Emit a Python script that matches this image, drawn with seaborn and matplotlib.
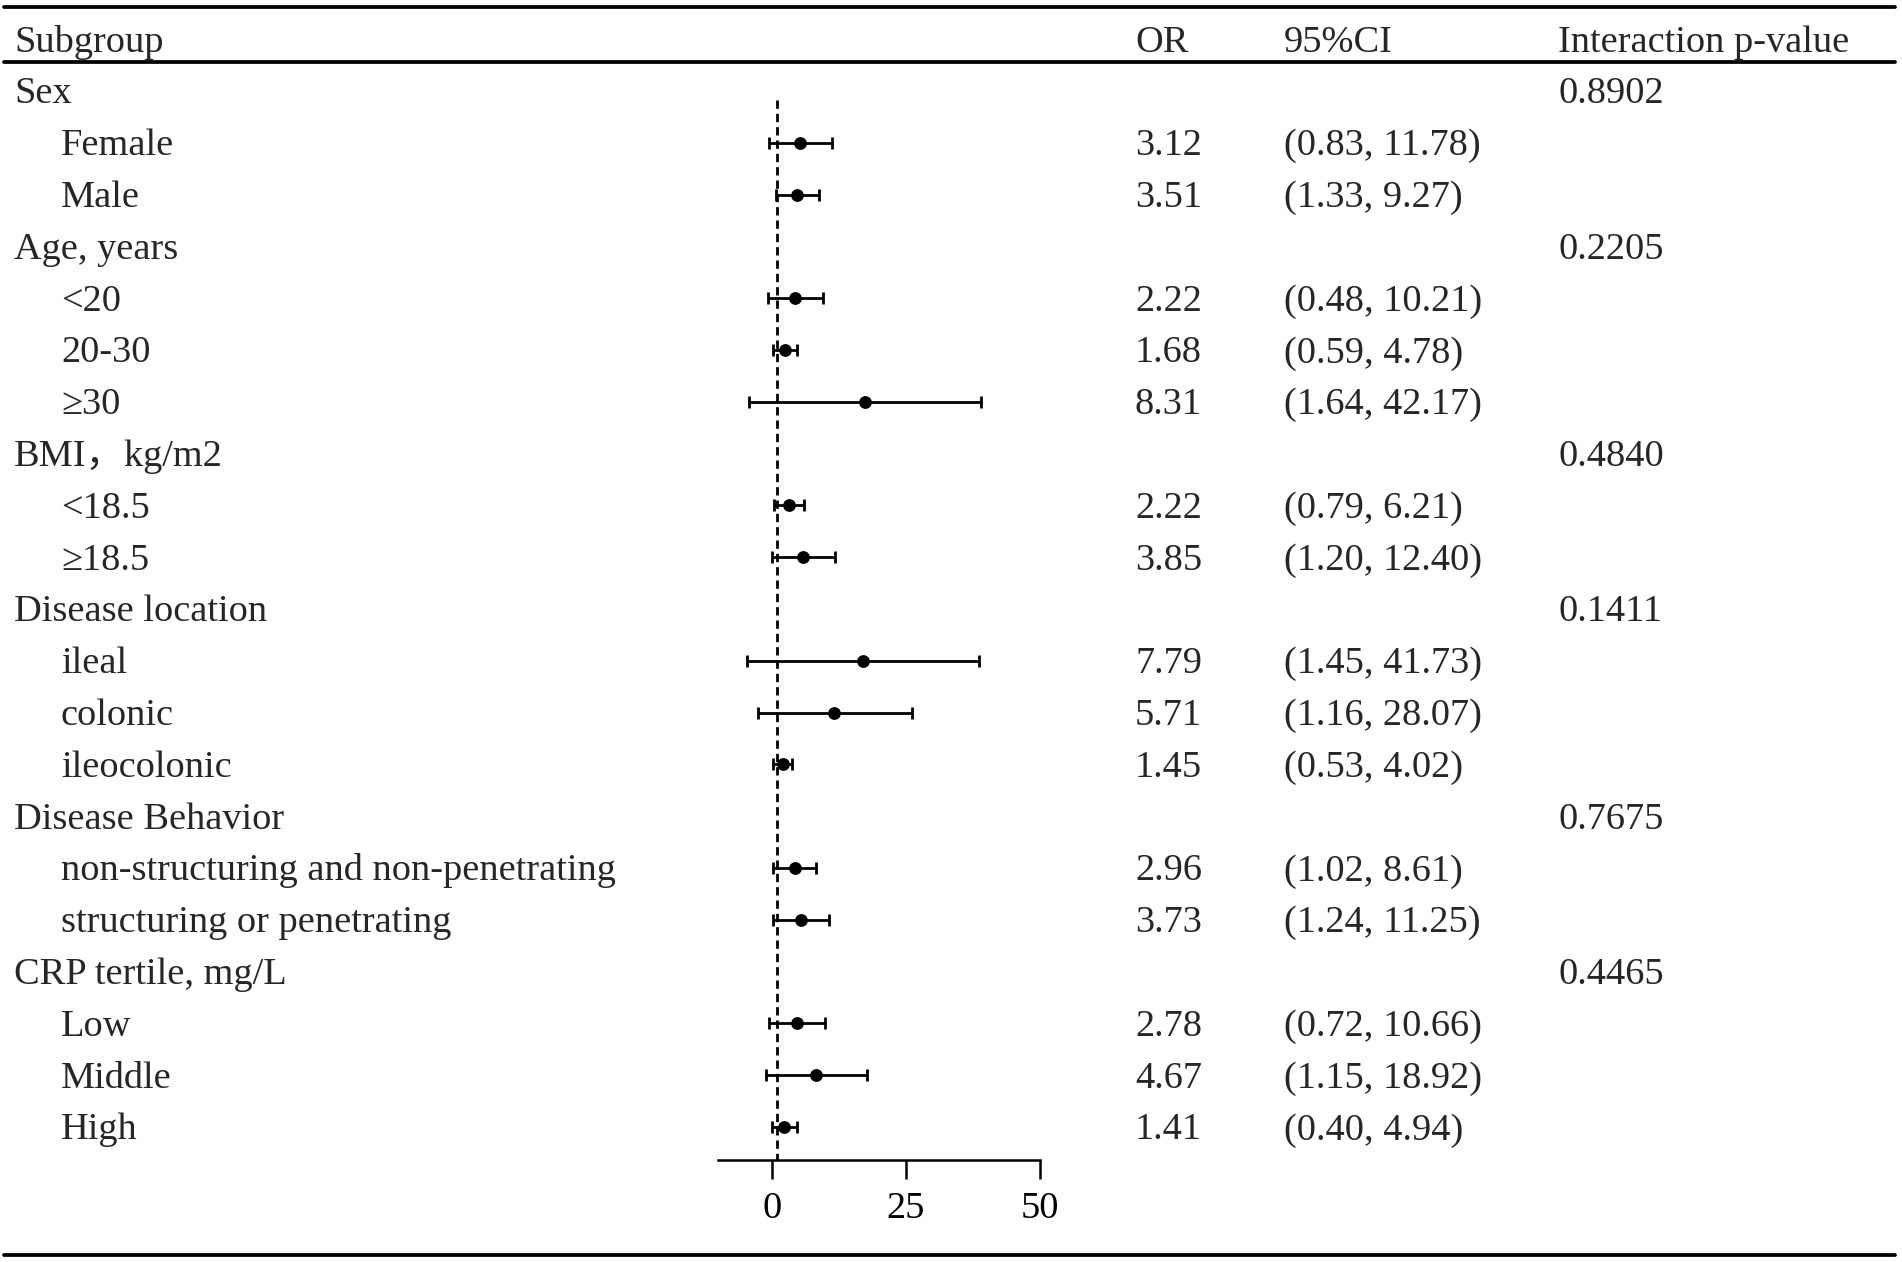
import numpy as np
import pandas as pd
import matplotlib
matplotlib.use("Agg")
import matplotlib.pyplot as plt
import matplotlib.transforms as mtransforms
from matplotlib.lines import Line2D
import seaborn as sns

# rows of the table, top to bottom
labels = ["Sex", "Female", "Male",
          "Age, years", "<20", "20-30", "\u226530",
          "BMI\uff0ckg/m2", "<18.5", "\u226518.5",
          "Disease location", "ileal", "colonic", "ileocolonic",
          "Disease Behavior", "non-structuring and non-penetrating", "structuring or penetrating",
          "CRP tertile, mg/L", "Low", "Middle", "High"]
indent = [0, 1, 1, 0, 1, 1, 1, 0, 1, 1, 0, 1, 1, 1, 0, 1, 1, 0, 1, 1, 1]

or_text = ["", "3.12", "3.51", "", "2.22", "1.68", "8.31", "", "2.22", "3.85",
           "", "7.79", "5.71", "1.45", "", "2.96", "3.73", "", "2.78", "4.67", "1.41"]
ci_text = ["", "(0.83, 11.78)", "(1.33, 9.27)", "", "(0.48, 10.21)", "(0.59, 4.78)", "(1.64, 42.17)",
           "", "(0.79, 6.21)", "(1.20, 12.40)", "", "(1.45, 41.73)", "(1.16, 28.07)", "(0.53, 4.02)",
           "", "(1.02, 8.61)", "(1.24, 11.25)", "", "(0.72, 10.66)", "(1.15, 18.92)", "(0.40, 4.94)"]
p_text = ["0.8902", "", "", "0.2205", "", "", "", "0.4840", "", "", "0.1411", "", "", "",
          "0.7675", "", "", "0.4465", "", "", ""]

# marks as drawn in the figure (point, lower and upper whisker ends)
nan = np.nan
point = [nan, 5.3, 4.8, nan, 4.4, 2.5, 17.4, nan, 3.2, 5.9, nan, 17.1, 11.7, 2.05,
         nan, 4.35, 5.5, nan, 4.8, 8.3, 2.35]
lower = [nan, -0.45, 0.8, nan, -0.75, 0.3, -4.2, nan, 0.37, 0.06, nan, -4.6, -2.6, 0.3,
         nan, 0.3, 0.3, nan, -0.44, -1.06, 0.0]
upper = [nan, 11.2, 8.9, nan, 9.6, 4.66, 39.0, nan, 6.0, 11.75, nan, 38.7, 26.1, 3.85,
         nan, 8.27, 10.7, nan, 10.0, 17.7, 4.72]

x_ticks = [0, 25, 50]

W, H = 1902, 1262
sns.set_style("white")
plt.rcParams["font.family"] = ["Liberation Serif", "DejaVu Serif", "Noto Sans CJK SC"]
FS = 27.6

df = pd.DataFrame({"row": np.arange(len(labels)), "point": point, "lower": lower, "upper": upper})
pts = df.dropna()

fig = plt.figure(figsize=(W / 100, H / 100), dpi=100)

# forest panel; rows are 51.8 px apart, first row centred at y=91 px
row0, step = 91.0, 51.8
ax_top, ax_bot = 62.0, 1160.0
ax = fig.add_axes([718 / W, 1 - ax_bot / H, (1040 - 718) / W, (ax_bot - ax_top) / H])
ax.set_xlim(-10, 50)
ax.set_ylim((ax_bot - row0) / step, (ax_top - row0) / step)

ax.plot([1, 1], [(100 - row0) / step, (ax_bot - row0) / step], color="black",
        lw=2.0, dashes=(3.0, 1.8), zorder=1)
ax.errorbar(pts["point"], pts["row"],
            xerr=[pts["point"] - pts["lower"], pts["upper"] - pts["point"]],
            fmt="none", ecolor="black", elinewidth=2.0, capsize=4.5, capthick=2.0, zorder=2)
sns.scatterplot(data=pts, x="point", y="row", color="black", s=85, edgecolor="black",
                linewidth=0, zorder=3, ax=ax, legend=False)

for side in ["top", "right", "left"]:
    ax.spines[side].set_visible(False)
ax.spines["bottom"].set_linewidth(1.8)
ax.spines["bottom"].set_color("black")
ax.set_xticks(x_ticks)
ax.set_yticks([])
ax.tick_params(axis="x", direction="out", length=14, width=1.8, pad=9, labelsize=FS,
               colors="black", bottom=True)
ax.set_xlabel("")
ax.set_ylabel("")
ax.patch.set_alpha(0)

# table text, aligned to the rows of the panel
tr = mtransforms.blended_transform_factory(fig.transFigure, ax.transData)
base = 0.24
head_y = (52 - row0) / step
for txt, xpx in [("Subgroup", 14), ("OR", 1135), ("95%CI", 1284), ("Interaction p-value", 1558)]:
    fig.text(xpx / W, head_y, txt, transform=tr, fontsize=FS, va="baseline", ha="left")

for i, lab in enumerate(labels):
    xpx = 61 if indent[i] else 14
    fig.text(xpx / W, i + base, lab, transform=tr, fontsize=FS, va="baseline", ha="left")
    if or_text[i]:
        fig.text(1135 / W, i + base, or_text[i], transform=tr, fontsize=FS, va="baseline")
    if ci_text[i]:
        fig.text(1284 / W, i + base, ci_text[i], transform=tr, fontsize=FS, va="baseline")
    if p_text[i]:
        fig.text(1558 / W, i + base, p_text[i], transform=tr, fontsize=FS, va="baseline")

# table rules
for ypx in [7, 62, 1255]:
    fig.add_artist(Line2D([4 / W, 1895 / W], [1 - ypx / H, 1 - ypx / H], color="black", lw=2.7))

fig.savefig("out.png", dpi=100, facecolor="white")
